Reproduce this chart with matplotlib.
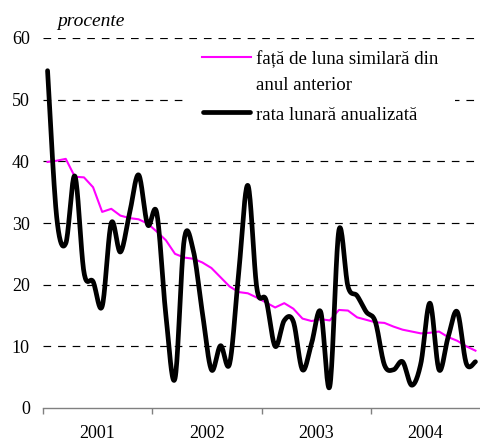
import numpy as np
import matplotlib
matplotlib.use("Agg")
import matplotlib.pyplot as plt
from matplotlib.lines import Line2D
from matplotlib.patches import Rectangle

plt.rcParams['font.family'] = ['Liberation Serif', 'DejaVu Serif']
plt.rcParams['lines.scale_dashes'] = False

years = ['2001', '2002', '2003', '2004']

# fata de luna similara din anul anterior (lunar, ian 2001 - dec 2004)
anual = [39.9, 40.1, 40.4, 37.5, 37.4, 35.8, 31.8, 32.3, 31.2, 30.8, 30.6, 29.9,
         28.6, 27.2, 25.0, 24.4, 24.2, 23.6, 22.7, 21.2, 19.7, 18.8, 18.6, 17.9,
         17.1, 16.3, 17.0, 16.1, 14.5, 14.1, 14.4, 14.2, 15.9, 15.8, 14.7, 14.3,
         13.9, 13.8, 13.2, 12.7, 12.4, 12.1, 12.2, 12.4, 11.5, 10.9, 10.0, 9.3]

# rata lunara anualizata
lunar = [54.7, 31.0, 26.7, 37.6, 22.0, 20.5, 16.5, 30.0, 25.3, 31.5, 37.8, 29.7,
         31.6, 15.0, 4.8, 27.2, 25.6, 15.5, 6.2, 10.1, 7.2, 22.0, 36.1, 19.3,
         17.5, 10.0, 14.2, 14.0, 6.2, 10.5, 15.6, 3.5, 28.8, 19.7, 18.2, 15.6,
         14.0, 7.0, 6.2, 7.5, 3.7, 7.2, 17.0, 6.2, 11.5, 15.6, 7.2, 7.5]

lab_anual = ['față de luna similară din', 'anul anterior']
lab_lunar = 'rata lunară anualizată'

x = np.arange(len(anual))


def smooth(xs, ys, n=20):
    # curba neteda tip Excel (Bezier cu tangente Catmull-Rom)
    xs = np.asarray(xs, float)
    ys = np.asarray(ys, float)
    px, py = [], []
    t = np.linspace(0, 1, n, endpoint=False)
    for i in range(len(xs) - 1):
        i0 = max(i - 1, 0)
        i3 = min(i + 2, len(xs) - 1)
        p1 = np.array([xs[i], ys[i]])
        p2 = np.array([xs[i + 1], ys[i + 1]])
        c1 = p1 + (p2 - np.array([xs[i0], ys[i0]])) / 6
        c2 = p2 - (np.array([xs[i3], ys[i3]]) - p1) / 6
        b = ((1 - t) ** 3)[:, None] * p1 + (3 * (1 - t) ** 2 * t)[:, None] * c1 \
            + (3 * (1 - t) * t ** 2)[:, None] * c2 + (t ** 3)[:, None] * p2
        px.extend(b[:, 0])
        py.extend(b[:, 1])
    px.append(xs[-1])
    py.append(ys[-1])
    return px, py


W, H = 480, 442
fig = plt.figure(figsize=(W / 100, H / 100), dpi=100)
ax = fig.add_axes([43 / W, 1 - 408 / H, 1 - 43 / W, 370 / H])

for v in range(10, 70, 10):
    ax.axhline(v, color='black', lw=0.85, linestyle=(0, (5.5, 5.0)), zorder=1)

pink = dict(color='#ff00ff', lw=1.5)
blk = dict(color='black', lw=3.4, solid_capstyle='round', solid_joinstyle='round')

ax.plot(x, anual, zorder=3, **pink)
sx, sy = smooth(x, lunar)
ax.plot(sx, sy, zorder=4, **blk)

ax.set_xlim(-0.5, 47.5)
ax.set_ylim(0, 60)

ax.set_yticks(range(0, 70, 10))
ax.tick_params(axis='y', length=0, pad=9.5, labelsize=13)

ax.set_xticks([-0.5, 11.5, 23.5, 35.5])
ax.set_xticklabels([])
ax.set_xticks([5.5, 17.5, 29.5, 41.5], minor=True)
ax.set_xticklabels(years, minor=True)
ax.tick_params(axis='x', which='major', direction='out', length=4.5, color='#808080', width=1)
ax.tick_params(axis='x', which='minor', length=0, pad=12, labelsize=13)

for s in ['top', 'right', 'left']:
    ax.spines[s].set_visible(False)
ax.spines['bottom'].set_color('#808080')
ax.spines['bottom'].set_linewidth(1)

fig.text(57 / W, 1 - 22 / H, 'procente', fontsize=14, style='italic',
         va='center', ha='left')

# legenda (handle aliniat cu primul rand al etichetei, ca in original)
fig.add_artist(Rectangle((187 / W, 1 - 130 / H), 268 / W, 86 / H,
                         transform=fig.transFigure, facecolor='white',
                         edgecolor='none', zorder=5))
fig.add_artist(Line2D([202 / W, 251 / W], [1 - 57.3 / H] * 2,
                      transform=fig.transFigure, zorder=6, **pink))
fig.add_artist(Line2D([203 / W, 250 / W], [1 - 112.3 / H] * 2,
                      transform=fig.transFigure, zorder=6, **blk))
fig.text(255.5 / W, 1 - 64.5 / H, lab_anual[0], fontsize=13.6, va='baseline', zorder=6)
fig.text(255.5 / W, 1 - 89.5 / H, lab_anual[1], fontsize=13.6, va='baseline', zorder=6)
fig.text(255.5 / W, 1 - 120 / H, lab_lunar, fontsize=13.6, va='baseline', zorder=6)

fig.savefig('out.png', dpi=100)
